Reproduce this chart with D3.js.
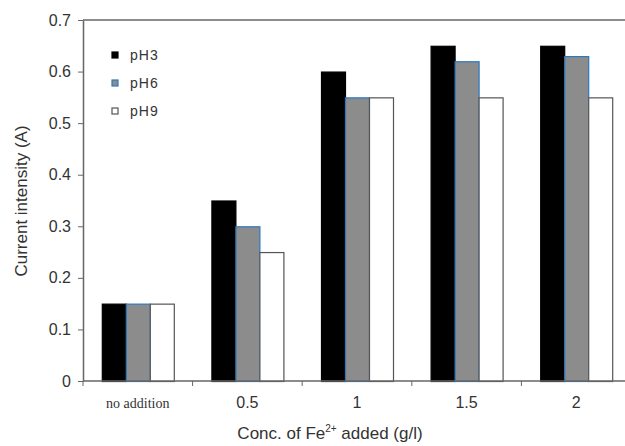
<!DOCTYPE html>
<html>
<head>
<meta charset="utf-8">
<script src="https://cdn.jsdelivr.net/npm/d3@7"></script>
<style>
	body { margin: 0; background: #fff; }
	svg { display: block; }
	text { font-family: "Liberation Sans", Arial, sans-serif; fill: #333; }
</style>
</head>
<body>
<svg id="plot" width="625" height="446"></svg>
<script>
const CATEGORIES = ['no addition', '0.5', '1', '1.5', '2'];
const SERIES = ['pH3', 'pH6', 'pH9'];
const PH3 = [0.15, 0.35, 0.60, 0.65, 0.65];
const PH6 = [0.15, 0.30, 0.55, 0.62, 0.63];
const PH9 = [0.15, 0.25, 0.55, 0.55, 0.55];
const Y_TICKS = [0, 0.1, 0.2, 0.3, 0.4, 0.5, 0.6, 0.7];

const FILLS = ['#000000', '#8c8c8c', '#ffffff'];
const STROKES = ['#000000', '#2a78c0', '#555555'];

const svg = d3.select('#plot');
const PLOT_LEFT = 83, PLOT_TOP = 20, PLOT_BOTTOM = 381, PLOT_RIGHT = 631;

const x = d3.scaleBand().domain(CATEGORIES).range([PLOT_LEFT, PLOT_RIGHT]);
const xs = d3.scaleBand().domain(SERIES).range([0, 72]);
const y = d3.scaleLinear().domain([0, 0.7]).range([PLOT_BOTTOM, PLOT_TOP]);

const values = [PH3, PH6, PH9];

// bars
const groups = svg.append('g')
	.selectAll('g')
	.data(CATEGORIES)
	.enter()
	.append('g')
		.attr('transform', d => `translate(${x(d) + (x.bandwidth() - 72) / 2},0)`);

groups.selectAll('rect')
	.data((c, i) => SERIES.map((s, j) => ({ s: s, j: j, v: values[j][i] })))
	.enter()
	.append('rect')
		.attr('x', d => xs(d.s) + 0.5)
		.attr('y', d => y(d.v) + 0.5)
		.attr('width', xs.bandwidth())
		.attr('height', d => PLOT_BOTTOM - y(d.v))
		.attr('fill', d => FILLS[d.j])
		.attr('stroke', d => STROKES[d.j])
		.attr('stroke-width', 1.2);

// top frame line
svg.append('line')
	.attr('x1', PLOT_LEFT).attr('x2', 625)
	.attr('y1', PLOT_TOP).attr('y2', PLOT_TOP)
	.attr('stroke', '#666').attr('stroke-width', 1.5);

// y axis
const yAxis = svg.append('g')
	.attr('transform', `translate(${PLOT_LEFT},0)`)
	.call(d3.axisLeft(y).tickValues(Y_TICKS).tickSize(5).tickSizeOuter(0).tickFormat(d => d === 0 ? '0' : d.toFixed(1)));
yAxis.select('.domain').attr('stroke', '#666').attr('stroke-width', 1.5);
yAxis.selectAll('.tick line').attr('stroke', '#666');
yAxis.selectAll('.tick text').attr('x', -12).attr('font-size', 16).attr('fill', '#333')
	.style('font-family', '"Liberation Sans", Arial, sans-serif');

// x axis
const xTicks = x.domain().map(d => x(d)).concat([PLOT_RIGHT]);
const xAxis = svg.append('g')
	.attr('transform', `translate(0,${PLOT_BOTTOM})`);
xAxis.append('line')
	.attr('x1', PLOT_LEFT).attr('x2', 625)
	.attr('stroke', '#666').attr('stroke-width', 1.5);
xAxis.selectAll('line.tk')
	.data(xTicks)
	.enter()
	.append('line')
		.classed('tk', true)
		.attr('x1', d => d).attr('x2', d => d)
		.attr('y1', 0).attr('y2', 5)
		.attr('stroke', '#666');
xAxis.selectAll('text')
	.data(CATEGORIES)
	.enter()
	.append('text')
		.text(d => d)
		.attr('x', d => x(d) + x.bandwidth() / 2)
		.attr('y', 27)
		.attr('text-anchor', 'middle')
		.attr('font-size', d => d === 'no addition' ? 14 : 16)
		.style('font-family', d => d === 'no addition' ? '"Liberation Serif", serif' : '"Liberation Sans", Arial, sans-serif');

// axis titles
svg.append('text')
	.attr('transform', 'translate(27,201) rotate(-90)')
	.attr('text-anchor', 'middle')
	.attr('font-size', 17)
	.text('Current intensity (A)');

const xt = svg.append('text')
	.attr('x', 330).attr('y', 439)
	.attr('text-anchor', 'middle')
	.attr('font-size', 17);
xt.append('tspan').text('Conc. of Fe');
xt.append('tspan').text('2+').attr('font-size', 10).attr('dy', -7);
xt.append('tspan').text(' added (g/l)').attr('dy', 7);

// legend
const legend = svg.append('g')
	.selectAll('g')
	.data(SERIES)
	.enter()
	.append('g')
		.attr('transform', (d, i) => `translate(115,${55 + i * 28})`);
legend.append('rect')
	.attr('x', -3).attr('y', -3)
	.attr('width', 6).attr('height', 6)
	.attr('fill', (d, i) => FILLS[i])
	.attr('stroke', (d, i) => STROKES[i])
	.attr('stroke-width', 1.2);
legend.append('text')
	.text(d => d)
	.attr('x', 15)
	.attr('y', 5)
	.attr('font-size', 14)
	.attr('letter-spacing', 1);
</script>
</body>
</html>
